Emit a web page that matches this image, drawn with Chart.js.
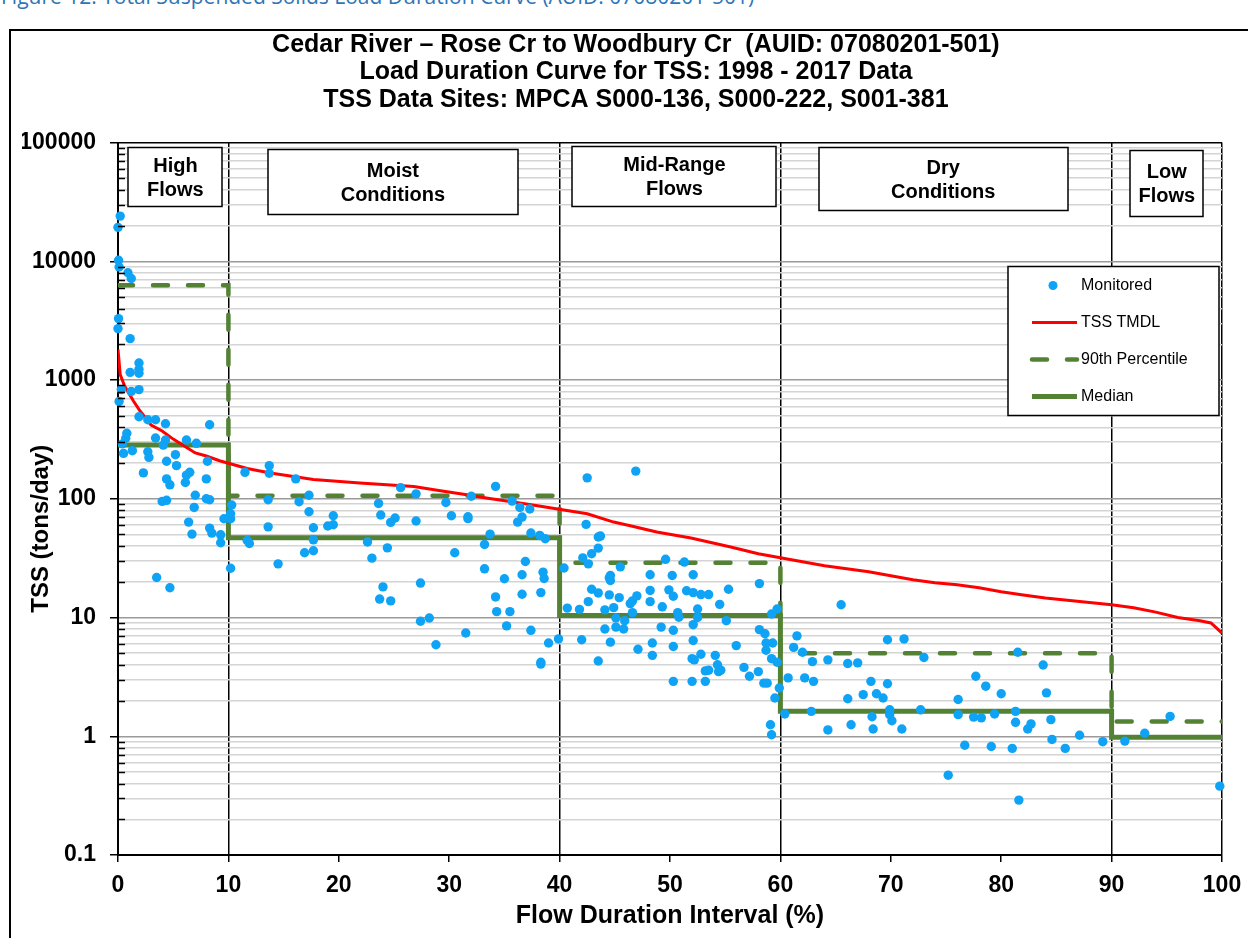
<!DOCTYPE html>
<html>
<head>
<meta charset="utf-8">
<script src="https://cdn.jsdelivr.net/npm/chart.js@4.4.1/dist/chart.umd.min.js"></script>
<style>
  body { margin: 0; background: #fff; width: 1248px; height: 938px; overflow: hidden; position: relative; }
  #cap { position: absolute; left: 1px; top: -14px; font: 21px/21px "Open Sans", "Noto Sans", sans-serif; color: #2e75b6; white-space: nowrap; }
  #frame { position: absolute; left: 9px; top: 29px; width: 1250px; height: 930px; border-left: 2px solid #000; border-top: 2px solid #000; }
  canvas { position: absolute; left: 0; top: 0; }
</style>
</head>
<body>
<div id="cap">Figure 12. Total Suspended Solids Load Duration Curve (AUID: 07080201-501)</div>
<div id="frame"></div>
<canvas id="ldc" width="1248" height="938"></canvas>
<script>
var titleLines = [
  'Cedar River \u2013 Rose Cr to Woodbury Cr  (AUID: 07080201-501)',
  'Load Duration Curve for TSS: 1998 - 2017 Data',
  'TSS Data Sites: MPCA S000-136, S000-222, S001-381'
];

// flow zones
var zoneEdges = [0, 10, 40, 60, 90, 100];
var zoneNames = [['High', 'Flows'], ['Moist', 'Conditions'], ['Mid-Range', 'Flows'], ['Dry', 'Conditions'], ['Low', 'Flows']];
var medianLoad = [283, 47, 10.4, 1.62, 0.98];
var pct90Load = [6280, 106, 28.9, 5.0, 1.33];

var yTickLabels = ['0.1', '1', '10', '100', '1000', '10000', '100000'];

// TSS TMDL curve (flow duration %, tons/day)
var tmdlPct = [0, 0.2, 0.6, 1.4, 2, 3, 4, 5, 6, 7, 8, 9.2, 11.7, 13.8, 17.7, 21.9, 26.8, 29.2, 31.3, 33.5, 35.8, 38, 40.1,
  42.5, 44.9, 46.5, 48.8, 51.9, 55.5, 58, 60, 62, 64, 66, 68, 70, 72, 74, 76, 78, 80, 82, 84, 86, 88, 90, 92, 94, 96, 98, 99, 100];
var tmdlLoad = [1810, 1110, 890, 665, 548, 418, 372, 318, 278, 243, 229, 209, 180, 165, 145, 136, 127, 117, 109, 101, 93.8, 87.3, 81.2,
  74.7, 63.6, 59, 52.4, 46.7, 39.2, 34.4, 31.8, 29.5, 27.3, 25.7, 24.3, 22.5, 20.8, 19.6, 18.9, 17.8, 16.5, 15.5, 14.6, 14.0, 13.4, 12.8, 12.1, 11.1, 10, 9.4, 9.0, 7.4];

// monitored samples [flow duration %, tons/day]
var monitored = [
  [0.2,24000],[0.0,19300],[0.05,10200],[0.1,8950],[0.9,8000],[1.2,7150],[0.05,3290],[0.0,2710],[1.1,2230],[1.9,1390],
  [1.1,1160],[1.9,1230],[1.9,1140],[0.3,830],[1.2,800],[1.9,830],[0.1,660],[1.9,490],[2.7,463],[3.4,463],
  [4.3,428],[8.3,420],[0.8,356],[0.7,323],[3.4,325],[4.3,312],[6.2,312],[7.1,293],[4.1,283],[0.4,290],
  [0.5,241],[1.3,254],[2.7,249],[2.8,223],[5.2,235],[4.4,207],[5.3,190],[8.1,207],[2.3,165],[6.5,167],
  [6.2,158],[4.4,147],[4.7,131],[6.1,137],[8.0,147],[7.0,107],[4.0,95],[4.4,97],[8.0,100],[8.3,98],
  [6.9,84.5],[6.4,63.6],[8.3,56.6],[8.5,51.4],[6.7,50.4],[9.3,49.7],[9.3,42.6],[9.6,67.8],[3.5,21.7],[4.7,17.8],
  [10.2,74.8],[10.2,67.8],[10.3,88.5],[10.2,26],[11.5,167],[13.7,190],[13.7,164],[16.1,147],[13.6,98],[16.4,94.3],
  [17.3,107],[17.3,77.7],[19.5,71.9],[19.5,60.4],[19.0,58.9],[17.7,57],[17.7,45.1],[17.7,36.5],[16.9,35.1],[14.5,28.3],
  [11.7,44.5],[11.9,42],[13.6,58],[25.6,124],[27.0,110],[23.6,91.3],[23.8,72.9],[25.1,68.8],[24.7,63.2],[27.0,64.9],
  [22.6,43.2],[23.0,31.6],[24.4,38.6],[27.4,19.5],[24.0,18.1],[23.7,14.3],[24.7,13.8],[27.4,9.3],[28.2,9.9],[28.8,5.9],
  [29.7,93],[30.2,71.9],[31.7,70.5],[31.7,68],[32.0,105],[30.5,35.1],[31.5,7.4],[34.2,127],[33.7,50.4],[33.2,41.2],
  [33.2,25.7],[34.2,14.9],[34.3,11.2],[35.0,21.2],[35.5,11.2],[35.2,8.5],[35.7,95.6],[36.4,84.5],[37.3,81.9],[36.6,70.1],
  [36.2,63.6],[37.4,51.4],[38.2,49.1],[38.7,46],[36.9,29.6],[36.6,22.9],[38.5,24.1],[38.6,21.3],[36.6,15.7],[38.3,16.2],
  [37.4,7.8],[38.3,4.2],[38.3,4.05],[39.0,6.1],[39.9,6.6],
  [42.5,150],[46.9,171],[42.4,60.8],[43.5,47.6],[43.7,48.5],[43.5,38.4],[42.9,34.4],[42.1,31.8],[42.6,28.3],[40.4,26.1],
  [40.7,12],[41.8,11.7],[42.6,13.6],[42.9,17.3],[43.5,16.1],[42.0,6.5],[43.5,4.3],[44.5,21.6],[44.6,20.5],[44.6,22.6],
  [44.5,15.5],[45.4,14.7],[44.1,11.6],[44.9,12.1],[45.1,9.9],[45.9,9.4],[45.1,8.3],[45.8,8.0],[44.1,8.0],[44.6,6.2],
  [45.5,26.7],[46.4,13.1],[46.6,13.8],[47.0,15.2],[46.6,11],[47.1,5.4],[48.2,22.9],[48.2,16.9],[48.2,13.6],[48.4,6.1],
  [48.4,4.8],[49.2,8.3],[49.3,12.3],[49.6,30.9],[49.9,17.1],[50.3,15.1],[50.2,22.6],[50.3,7.8],[50.3,5.7],[50.7,11],
  [50.8,10.05],[51.3,29.3],[51.5,16.8],[52.1,16.2],[52.8,15.6],[53.5,15.6],[52.1,22.9],[52.5,11.8],[52.5,10],[52.1,8.7],
  [52.1,6.4],[52.0,4.5],[52.2,4.4],[52.8,4.9],[54.1,4.8],[53.2,3.55],[53.5,3.6],[54.3,4.0],[54.4,3.5],[54.6,3.6],
  [53.2,2.9],[50.3,2.9],[52.0,2.9],[54.5,12.9],[55.3,17.3],[55.1,9.4],[56.0,5.8],[56.7,3.8],[57.2,3.2],[58.0,3.5],
  [58.1,19.3],[58.1,7.9],[58.6,7.3],[58.7,6.1],[59.3,6.1],[58.7,5.3],[59.2,4.5],[59.7,4.2],[59.2,10.7],[59.7,11.8],
  [58.5,2.8],[58.8,2.8],[59.5,2.1],[59.9,2.55],[59.1,1.25],[59.2,1.03],
  [60.4,1.54],[60.7,3.1],[61.2,5.6],[61.5,7.0],[62.0,5.1],[62.2,3.1],[62.9,4.25],[63.0,2.9],[62.8,1.62],[64.3,4.4],
  [64.3,1.13],[65.5,12.8],[66.1,4.1],[67.0,4.15],[66.1,2.07],[66.4,1.25],[67.5,2.24],[68.2,2.9],[68.3,1.46],[68.4,1.15],
  [68.7,2.28],[69.3,2.1],[69.7,2.77],[69.7,6.5],[69.9,1.67],[69.9,1.52],[70.1,1.35],[71.0,1.15],[71.2,6.6],[72.7,1.67],
  [73.0,4.6],[75.2,0.47],[76.1,2.04],[76.1,1.52],[76.7,0.84],[77.5,1.45],[77.7,3.2],[78.2,1.43],[78.6,2.64],[79.1,0.82],
  [79.4,1.54],[80.0,2.28],[81.0,0.79],[81.3,1.62],[81.3,1.31],[81.5,5.1],[81.6,0.29],[82.4,1.15],[82.7,1.27],[83.8,3.98],
  [84.1,2.32],[84.5,1.38],[84.6,0.94],[85.8,0.79],[87.1,1.02],[89.2,0.9],
  [91.2,0.91],[93.0,1.06],[95.3,1.47],[99.8,0.38]
];

var FONT = '"Liberation Sans", Arial, sans-serif';
Chart.defaults.font.family = FONT;
Chart.defaults.color = '#000';

function isDecade(v) {
  var e = Math.log10(v);
  return Math.abs(e - Math.round(e)) < 1e-6;
}

function steps(vals) {
  var pts = [];
  vals.forEach(function(v, i) {
    pts.push({x: zoneEdges[i], y: v});
    pts.push({x: zoneEdges[i + 1], y: v});
  });
  return pts;
}

var zoneBoxes = {
  id: 'zoneBoxes',
  afterDatasetsDraw: function(chart, args, opts) {
    var ctx = chart.ctx, a = chart.chartArea, x = chart.scales.x;
    ctx.save();
    ctx.font = 'bold 20px ' + FONT;
    ctx.textAlign = 'center';
    ctx.textBaseline = 'middle';
    opts.boxes.forEach(function(b, i) {
      var cx = x.getPixelForValue(b.at);
      var left = Math.round(cx - b.w / 2), top = a.top + b.dy;
      ctx.fillStyle = '#fff';
      ctx.fillRect(left, top, b.w, b.h);
      ctx.strokeStyle = '#000';
      ctx.lineWidth = 1.5;
      ctx.strokeRect(left, top, b.w, b.h);
      ctx.fillStyle = '#000';
      var mid = top + b.h / 2 + 1;
      zoneNames[i].forEach(function(t, j) {
        ctx.fillText(t, cx, mid + (j - 0.5) * 24);
      });
    });
    ctx.restore();
  }
};

var boxLegend = {
  id: 'boxLegend',
  afterDraw: function(chart) {
    var ctx = chart.ctx, a = chart.chartArea;
    var x0 = a.right - 214, y0 = a.top + 124, w = 211, h = 149;
    ctx.save();
    ctx.fillStyle = '#fff';
    ctx.fillRect(x0, y0, w, h);
    ctx.strokeStyle = '#000';
    ctx.lineWidth = 1.5;
    ctx.strokeRect(x0, y0, w, h);
    ctx.font = '16px ' + FONT;
    ctx.textBaseline = 'middle';
    chart.data.datasets.forEach(function(ds, i) {
      var y = y0 + 19 + i * 37;
      if (!ds.showLine) {
        ctx.fillStyle = ds.backgroundColor;
        ctx.beginPath();
        ctx.arc(x0 + 45, y, 4.5, 0, Math.PI * 2);
        ctx.fill();
      } else {
        ctx.strokeStyle = ds.borderColor;
        ctx.lineWidth = ds.borderWidth;
        ctx.lineCap = ds.borderCapStyle || 'butt';
        ctx.setLineDash(ds.borderDash || []);
        ctx.beginPath();
        ctx.moveTo(x0 + 24, y);
        ctx.lineTo(x0 + 69, y);
        ctx.stroke();
        ctx.setLineDash([]);
      }
      ctx.fillStyle = '#000';
      ctx.fillText(ds.label, x0 + 73, y);
    });
    ctx.restore();
  }
};

var minorTicks = {
  id: 'minorTicks',
  afterDraw: function(chart) {
    var ctx = chart.ctx, a = chart.chartArea, y = chart.scales.y;
    ctx.save();
    ctx.strokeStyle = '#000';
    ctx.lineWidth = 1.5;
    ctx.beginPath();
    y.ticks.forEach(function(t) {
      if (isDecade(t.value)) return;
      var py = Math.round(y.getPixelForValue(t.value)) + 0.5;
      ctx.moveTo(a.left, py);
      ctx.lineTo(a.left + 7, py);
    });
    ctx.stroke();
    ctx.restore();
  }
};

var ctx = document.getElementById('ldc');
var ldcChart = new Chart(ctx, {
  type: 'scatter',
  data: {
    datasets: [{
      label: 'Monitored',
      data: monitored.map(function(p) { return {x: p[0], y: p[1]}; }),
      backgroundColor: '#0fa3f5',
      borderColor: '#0fa3f5',
      pointRadius: 4.7,
      pointBorderWidth: 0,
      clip: false
    }, {
      label: 'TSS TMDL',
      data: tmdlPct.map(function(p, i) { return {x: p, y: tmdlLoad[i]}; }),
      showLine: true,
      borderColor: '#ff0000',
      borderWidth: 3,
      pointRadius: 0
    }, {
      label: '90th Percentile',
      data: steps(pct90Load),
      showLine: true,
      borderColor: '#548235',
      borderWidth: 4.5,
      borderDash: [15, 20],
      borderCapStyle: 'round',
      pointRadius: 0
    }, {
      label: 'Median',
      data: steps(medianLoad),
      showLine: true,
      borderColor: '#548235',
      borderWidth: 5,
      pointRadius: 0
    }]
  },
  options: {
    responsive: false,
    animation: false,
    devicePixelRatio: 1,
    events: [],
    layout: { padding: { top: 16, left: 22, right: 26, bottom: 0 } },
    plugins: {
      legend: { display: false },
      tooltip: { enabled: false },
      title: {
        display: true,
        // leading spaces nudge the block right, the original sits a little off centre
        text: titleLines.map(function(t) { return '\u00a0\u00a0\u00a0\u00a0' + t; }),
        color: '#000',
        font: { size: 25, weight: 'bold', lineHeight: 1.1 },
        padding: { top: 15, bottom: 29 }
      },
      zoneBoxes: {
        boxes: [
          { at: 5.2, w: 94, dy: 5, h: 59 },
          { at: 24.9, w: 250, dy: 7, h: 65 },
          { at: 50.4, w: 204, dy: 4, h: 60 },
          { at: 74.75, w: 249, dy: 5, h: 63 },
          { at: 95, w: 73, dy: 8, h: 66 }
        ]
      }
    },
    scales: {
      x: {
        type: 'linear',
        min: 0,
        max: 100,
        afterFit: function(s) {
          s.height = 83;
          // keep the plot edge at the layout padding, the "100" label fits in it
          s.paddingLeft = 0;
          s.paddingRight = 0;
        },
        ticks: { stepSize: 10, autoSkip: false, maxRotation: 0, padding: 10, font: { size: 23, weight: 'bold' } },
        grid: {
          color: function(c) { return [10, 40, 60, 90, 100].indexOf(c.tick && c.tick.value) >= 0 ? '#000' : 'rgba(0,0,0,0)'; },
          lineWidth: 1.5,
          tickColor: '#000',
          tickLength: 7
        },
        border: { color: '#000', width: 2 },
        title: {
          display: true,
          text: 'Flow Duration Interval (%)',
          font: { size: 25, weight: 'bold' },
          padding: { top: 0, bottom: 7 }
        }
      },
      y: {
        type: 'logarithmic',
        min: 0.1,
        max: 100000,
        afterFit: function(s) { s.width = 96; },
        afterBuildTicks: function(s) {
          var t = [];
          for (var e = -1; e <= 5; e++) {
            for (var m = 1; m <= 9; m++) {
              if (e === 5 && m > 1) break;
              t.push({ value: +(m * Math.pow(10, e)).toPrecision(3) });
            }
          }
          s.ticks = t;
        },
        ticks: {
          autoSkip: false,
          padding: 14,
          font: { size: 23, weight: 'bold' },
          callback: function(v) {
            return isDecade(v) ? yTickLabels[Math.round(Math.log10(v)) + 1] : '';
          }
        },
        grid: {
          color: function(c) {
            if (!c.tick) return '#d4d4d4';
            if (c.tick.value >= 100000) return '#000';
            return isDecade(c.tick.value) ? '#9a9a9a' : '#d4d4d4';
          },
          lineWidth: 1.5,
          tickColor: function(c) { return c.tick && isDecade(c.tick.value) ? '#000' : 'rgba(0,0,0,0)'; },
          tickLength: 8
        },
        border: { color: '#000', width: 2 },
        title: {
          display: true,
          // trailing spaces push the rotated title down, as in the original
          text: 'TSS (tons/day)\u00a0\u00a0\u00a0\u00a0\u00a0\u00a0\u00a0\u00a0\u00a0',
          font: { size: 24, weight: 'bold' },
          padding: { top: 5, bottom: 0 }
        }
      }
    }
  },
  plugins: [zoneBoxes, boxLegend, minorTicks]
});
</script>
</body>
</html>
